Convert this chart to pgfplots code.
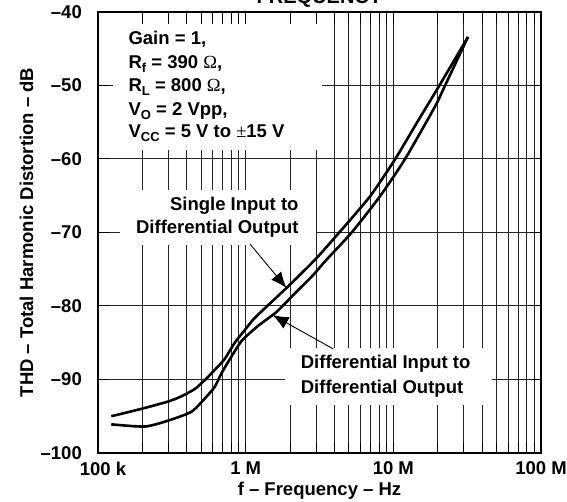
\documentclass[border=0pt]{standalone}
\usepackage{fontspec}
\setmainfont{Liberation Sans}
\newfontfamily\serifsym{Liberation Serif}
\usepackage{pgfplots}
\pgfplotsset{compat=1.18}
\usetikzlibrary{arrows.meta}

\newcommand\lbl{\fontsize{18.5}{22}\selectfont\bfseries}
\newcommand\sub[1]{\raisebox{-4pt}{\fontsize{13}{13}\selectfont\bfseries #1}}
\newcommand\Om{{\serifsym\mdseries Ω}}
\newcommand\PM{{\serifsym\mdseries ±}}

\begin{document}
\begin{tikzpicture}
\node[font=\fontsize{20}{24}\selectfont\bfseries, anchor=base] at (319.5pt,498pt) {FREQUENCY};

\begin{axis}[
  at={(98pt,49pt)}, anchor=south west,
  scale only axis,
  width=443pt, height=441pt,
  xmode=log,
  xmin=1e5, xmax=1e8,
  ymin=-100, ymax=-40,
  xtick={1e5,1e6,1e7,1e8},
  xticklabels={\hspace{10pt}100 k,1 M,10 M,100 M\hspace{14pt}},
  ytick={-100,-90,-80,-70,-60,-50,-40},
  yticklabels={–100,–90,–80,–70,–60,–50,–40},
  tick align=inside,
  major tick length=11pt,
  minor tick length=11pt,
  every tick/.style={line width=1pt, black},
  xmajorgrids, xminorgrids, ymajorgrids,
  major grid style={line width=1pt, black!85},
  minor grid style={line width=1pt, black!85},
  axis line style={line width=2.2pt, black},
  tick label style={font=\lbl},
  yticklabel style={anchor=east, inner sep=0pt, xshift=-16pt},
  xticklabel style={anchor=north, inner sep=0pt, yshift=-8.5pt},
  clip=false,
]
% white boxes that break the grid behind the texts
\fill[white] (rel axis cs:0.034,0.687) rectangle (rel axis cs:0.506,0.972);
\fill[white] (rel axis cs:0.0497,0.4717) rectangle (rel axis cs:0.492,0.5964);
\fill[white] (rel axis cs:0.422,0.109) rectangle (rel axis cs:0.889,0.238);

% single input to differential output
\addplot[black, line width=2.6pt, smooth, tension=0.4] coordinates {
  (1.23e5,-95.0)(1.96e5,-94.0)(2.98e5,-93.0)(3.66e5,-92.3)(4.52e5,-91.3)
  (5.28e5,-90.1)(6.17e5,-88.7)(7.21e5,-87.2)(8.43e5,-85.0)(9.84e5,-83.3)
  (1.13e6,-81.8)(1.4e6,-80.0)(1.9e6,-77.5)(2.95e6,-73.7)(4.3e6,-70.0)
  (6.94e6,-65.1)(1.03e7,-60.0)(1.45e7,-55.0)(2.05e7,-50.0)(3.2e7,-43.4)
};
% differential input to differential output
\addplot[black, line width=2.6pt, smooth, tension=0.4] coordinates {
  (1.23e5,-96.1)(2.07e5,-96.4)(2.98e5,-95.6)(4.28e5,-94.4)(5.28e5,-92.6)
  (6.17e5,-91.0)(6.84e5,-89.2)(8.0e5,-86.9)(9.34e5,-84.8)(1.12e6,-83.3)
  (1.25e6,-82.5)(1.62e6,-80.8)(2.1e6,-78.5)(2.8e6,-76.0)(3.53e6,-73.7)
  (5.22e6,-70.0)(8.1e6,-65.1)(1.2e7,-60.0)(1.91e7,-52.9)(2.24e7,-50.0)
  (3.2e7,-43.4)
};

% conditions
\node[font=\lbl, anchor=base west] at (rel axis cs:0.061,0.9268) {Gain = 1,};
\node[font=\lbl, anchor=base west] at (rel axis cs:0.061,0.8723) {R\sub{f} = 390 \Om,};
\node[font=\lbl, anchor=base west] at (rel axis cs:0.061,0.8193) {R\sub{L} = 800 \Om,};
\node[font=\lbl, anchor=base west] at (rel axis cs:0.061,0.7664) {V\sub{O} = 2 Vpp,};
\node[font=\lbl, anchor=base west] at (rel axis cs:0.061,0.7143) {V\sub{CC} = 5 V to \PM15 V};

% curve labels
\node[font=\lbl, anchor=base east] at (rel axis cs:0.4605,0.5494) {Single Input to};
\node[font=\lbl, anchor=base east] at (rel axis cs:0.4605,0.4966) {Differential Output};
\node[font=\lbl, anchor=base west] at (rel axis cs:0.4499,0.1921) {Differential Input to};
\node[font=\lbl, anchor=base west] at (rel axis cs:0.4499,0.1354) {Differential Output};

\draw[line width=0.9pt, -{Latex[length=16pt,width=13pt]}]
  (rel axis cs:0.3431,0.4739) -- (rel axis cs:0.4255,0.3741);
\draw[line width=0.9pt, -{Latex[length=16pt,width=13pt]}]
  (rel axis cs:0.5312,0.2358) -- (rel axis cs:0.3939,0.3129);

% heavy frame
\draw[line width=2.2pt] (rel axis cs:0,0) rectangle (rel axis cs:1,1);
\end{axis}

\node[font=\lbl, anchor=base] at (319.5pt,6pt) {f – Frequency – Hz};
\node[font=\lbl, anchor=base, rotate=90] at (33pt,269.5pt) {THD – Total Harmonic Distortion – dB};

\pgfresetboundingbox
\useasboundingbox (0,0) rectangle (567pt,502pt);
\end{tikzpicture}
\end{document}
